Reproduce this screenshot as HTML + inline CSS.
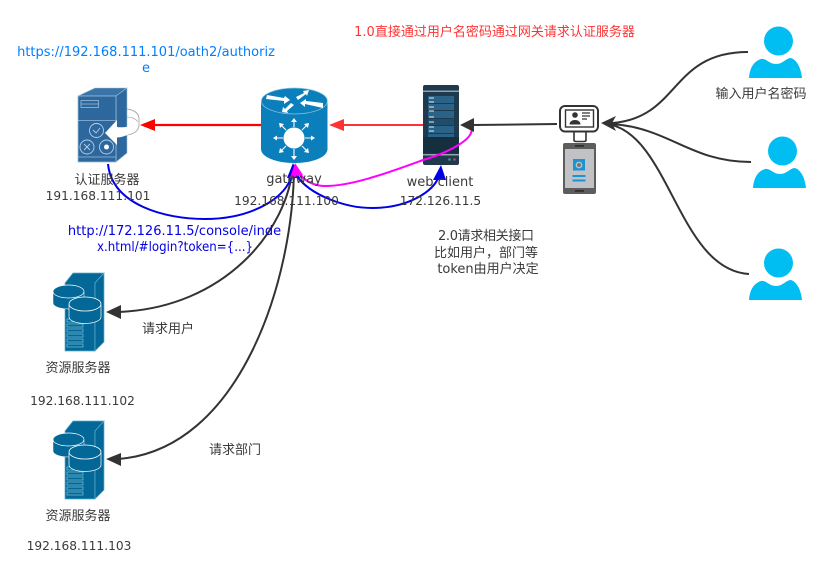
<!DOCTYPE html>
<html><head><meta charset="utf-8"><style>
html,body{margin:0;padding:0;background:#fff;width:819px;height:567px;overflow:hidden}
svg{display:block}
text{font-family:"DejaVu Sans","WenQuanYi Zen Hei","Noto Sans CJK SC",sans-serif;font-size:13px;fill:#3a3a3a;text-anchor:middle}
text.ip{font-size:12.2px}
</style></head><body>
<svg width="819" height="567" viewBox="0 0 819 567" xmlns="http://www.w3.org/2000/svg">
<defs>
<g id="res">
<path d="M65 10 L73 0 H104 L95 10 V78 H65Z" fill="#036897" stroke="#5fb0cf" stroke-width=".7"/>
<path d="M95 10 L104 0 V69 L95 78Z" fill="#036897" stroke="#5fb0cf" stroke-width=".7"/>
<g fill="none" stroke="#6fb8d3" stroke-width=".8">
<rect x="67" y="46" width="16" height="3"/><rect x="67" y="51" width="16" height="3"/><rect x="67" y="56" width="16" height="3"/><rect x="67" y="61" width="16" height="3"/><rect x="67" y="66" width="16" height="3"/><rect x="67" y="71" width="16" height="3"/>
</g>
<path d="M53 19 V30 A15.500 6 0 0 0 84 30 V19Z" fill="#036897" stroke="#fff" stroke-width=".5"/>
<ellipse cx="68.500" cy="18.500" rx="15.500" ry="6.500" fill="#036897" stroke="#fff" stroke-width=".7"/>
<path d="M69 32 V44 A16 6.500 0 0 0 101 44 V32Z" fill="#036897" stroke="#fff" stroke-width=".7"/>
<ellipse cx="85" cy="31" rx="16" ry="7" fill="#036897" stroke="#fff" stroke-width=".8"/>
</g>
<path id="user" d="M0 21 C1 9 6 4 12 2 C17 1 20 7 27 7 C34 7 37 1 42 1 C48 3 52 11 53 21Z" fill="#00bef2"/>
</defs>

<!-- auth server -->
<path d="M78 96 L95 88 H127 V153 L116 162 H78Z" fill="#2c679e"/>
<path d="M78 96 L95 88 H127 L116 96Z" fill="#3b74a8" stroke="#9dbbd6" stroke-width=".6"/>
<path d="M116 96 L127 88 V153 L116 162Z" fill="#2c679e" stroke="#9dbbd6" stroke-width=".6"/>
<rect x="78" y="96" width="38" height="66" fill="#2c679e" stroke="#9dbbd6" stroke-width=".8"/>
<rect x="81" y="100.500" width="17.500" height="7" fill="none" stroke="#9dbbd6" stroke-width=".8"/>
<path d="M81 104 H98 M78 120.500 H116 M78 157 H116" stroke="#9dbbd6" stroke-width=".8"/>
<g fill="none" stroke="#b9cfe3" stroke-width=".9">
<circle cx="96.500" cy="130.500" r="7"/><circle cx="87" cy="147" r="7"/><circle cx="106.500" cy="147" r="7"/>
<path d="M93 130 L96 133 L100 128 M84 144 L90 150 M90 144 L84 150"/>
</g>
<circle cx="106.500" cy="147" r="2.500" fill="#fff"/>
<path d="M127 109 C134 110 139 113 139 119 V125 C139 131 133 135 125 135" fill="none" stroke="#aaa" stroke-width=".9"/>
<path d="M127 117 C132 117 136 119 138 122" fill="none" stroke="#aaa" stroke-width=".7"/>
<path d="M105 133 L117 120 V127 C125 128 133 126 138 121.500 C137 131 127 137 117 137.500 V145Z" fill="#fff"/>

<!-- router -->
<path d="M261 101 V149 C261 157 276 163 294.500 163 C313 163 327.500 157 327.500 149 V101Z" fill="#0b7fbb"/>
<ellipse cx="294.400" cy="101" rx="33" ry="13" fill="#0b7fbb" stroke="#8fc6e0" stroke-width=".7"/>
<g fill="#fff">
<path d="M267 95 L284 98 L285 96 L290 100 L284 104 L284 101 L266 99Z"/>
<path d="M296 97 L304 93 L303 91 L309 90 L307 96 L306 94 L298 100Z"/>
<path d="M282 112 L283 107 L285 109 L291 103 L294 105 L287 111 L288 113Z"/>
<path d="M300 103 L306 99 L306 101 L323 103 L323 108 L305 104 L305 107Z"/>
<circle cx="294" cy="138" r="10.500"/>
</g>
<g stroke="#fff" stroke-width="1.100" fill="none">
<path d="M294 127 V120 M294 149 V156 M283 138 H275 M305 138 H313 M286 130 L281 125 M302 130 L307 125 M286 146 L281 151 M302 146 L307 151"/>
</g>
<g fill="#fff">
<path d="M294 118 L291 122 H297Z M294 160 L291 156 H297Z M273 138 L277 135.500 V140.500Z M315 138 L311 135.500 V140.500Z M279 123 L284 124 L280 128Z M309 123 L304 124 L308 128Z M279 153 L280 148 L284 152Z M309 153 L308 148 L304 152Z"/>
</g>

<!-- web client -->
<rect x="423" y="85" width="36" height="80" rx="2" fill="#1e3a4c"/>
<rect x="423" y="90.500" width="36" height="1.500" fill="#8fa3ae"/>
<rect x="423" y="154" width="36" height="1.500" fill="#8fa3ae"/>
<rect x="428" y="96" width="26" height="7" fill="#2a6387"/><rect x="428" y="104" width="26" height="6" fill="#2a6387"/>
<rect x="428" y="111" width="26" height="7" fill="#2a6387"/><rect x="428" y="119" width="26" height="6" fill="#1f4e6c"/>
<rect x="428" y="126" width="26" height="7" fill="#2a6387"/><rect x="428" y="134" width="26" height="3" fill="#2a6387"/>
<path d="M429 98 H434 M429 102 H434 M429 107 H434 M429 111 H434 M429 117 H434 M429 122 H434 M429 127 H434 M429 131 H434" stroke="#e6eef3" stroke-width="1"/>
<path d="M424 137 V153 M426 137 V153 M428 137 V153 M430 137 V153 M432 137 V153 M434 137 V153 M436 137 V153 M438 137 V153 M440 137 V153 M442 137 V153 M444 137 V153 M446 137 V153 M448 137 V153 M450 137 V153 M452 137 V153 M454 137 V153 M456 137 V153 M458 137 V153" stroke="#0f2431" stroke-width="1"/>
<circle cx="449.500" cy="159.500" r="1.300" fill="#3a9a80"/><circle cx="454.500" cy="159.500" r="1.300" fill="#b04a55"/>

<!-- monitor and phone -->
<path d="M574 131 V140 Q574 141.500 576 141.500 H584 Q586 141.500 586 140 V131" fill="#fff" stroke="#333" stroke-width="1.600"/>
<rect x="560" y="106" width="38" height="25.500" rx="5" fill="#fff" stroke="#333" stroke-width="2"/>
<rect x="565.500" y="110" width="28" height="17" fill="#fff" stroke="#333" stroke-width="1.400"/>
<circle cx="575" cy="115" r="2.800" fill="#333"/><path d="M569.500 124.500 C569.500 118.500 580.500 118.500 580.500 124.500Z" fill="#333"/>
<path d="M582 113 H590 M582 116 H590 M582 119 H587" stroke="#333" stroke-width="1.300"/>
<rect x="563" y="143" width="33" height="51" rx="2" fill="#5d5d5d"/>
<rect x="565" y="149" width="29" height="39" fill="#c0c2c6"/>
<rect x="575" y="145" width="9" height="1.800" fill="#2f2f2f"/><rect x="575" y="190" width="9" height="1.800" fill="#2f2f2f"/>
<rect x="573" y="159" width="12" height="11.500" fill="#1a94d2"/>
<circle cx="579" cy="165" r="3.400" fill="#c0c2c6"/><circle cx="579" cy="165" r="2" fill="#777"/>
<rect x="572.500" y="175" width="13" height="2" fill="#1a94d2"/><rect x="572.500" y="179.500" width="13" height="2" fill="#1a94d2"/>

<!-- resource servers -->
<use href="#res" x="0" y="273"/>
<use href="#res" x="0" y="421"/>

<!-- users -->
<circle cx="778.500" cy="41" r="14.500" fill="#00bef2"/><use href="#user" x="749" y="57"/>
<circle cx="782.500" cy="151" r="14.500" fill="#00bef2"/><use href="#user" x="753" y="167"/>
<circle cx="778.500" cy="263" r="14.500" fill="#00bef2"/><use href="#user" x="749" y="279"/>

<!-- connectors -->
<g fill="none" stroke-linecap="butt">
<path d="M748 52 C670 52 680 118 612 123" stroke="#333" stroke-width="2"/>
<path d="M751 162 C690 162 670 128 612 124" stroke="#333" stroke-width="2"/>
<path d="M749 274 C680 270 670 140 612 125" stroke="#333" stroke-width="2"/>
<path d="M557 124 L472 125" stroke="#333" stroke-width="2"/>
<path d="M261 125 H153" stroke="#ff0000" stroke-width="2.200"/>
<path d="M423 125 H343" stroke="#ff3333" stroke-width="2"/>
<path d="M293 165 C288 230 225 308 118 312" stroke="#333" stroke-width="2"/>
<path d="M294 165 C294 280 240 450 118 459" stroke="#333" stroke-width="2"/>
<path d="M108 164 C112 205 165 219 205 219 C255 219 288 195 291 176" stroke="#0000e6" stroke-width="2"/>
<path d="M297 176 C310 195 345 208 372 208 C410 208 434 190 438 178" stroke="#0000e6" stroke-width="2"/>
<path d="M471 127 C476 138 450 152 423 160 C390 172 350 187 323 186 C311 185 304 180 299 173" stroke="#ff00ff" stroke-width="2"/>
</g>
<g>
<path d="M601 123 L616 116 L612 123 L616 131Z" fill="#333"/>
<path d="M460 125 L474 118 V132Z" fill="#333"/>
<path d="M140 125 L155 119 V131Z" fill="#ff0000"/>
<path d="M329 125 L344 119 V131Z" fill="#ff3333"/>
<path d="M106 312 L121 305 V319Z" fill="#333"/>
<path d="M106 459 L121 453 V466Z" fill="#333"/>
<path d="M293 163 L287 178 L300 178Z" fill="#0000e6"/>
<path d="M295 163 L290 178 L303 175Z" fill="#ff00ff"/>
<path d="M441 165 L433 180 L446 180Z" fill="#0000e6"/>
</g>

<!-- labels -->
<text x="146" y="56" style="fill:#007fff">https://192.168.111.101/oath2/authoriz</text>
<text x="146" y="72" style="fill:#007fff">e</text>
<text x="494.500" y="36" style="fill:#ff3333">1.0直接通过用户名密码通过网关请求认证服务器</text>
<text x="107" y="184">认证服务器</text>
<text class="ip" x="98" y="200">191.168.111.101</text>
<text x="294" y="183">gateway</text>
<text class="ip" x="286.500" y="205">192.168.111.100</text>
<text x="440" y="186">web client</text>
<text class="ip" x="440.500" y="205">172.126.11.5</text>
<text x="174.500" y="235" style="fill:#0000e6">http://172.126.11.5/console/inde</text>
<text x="175" y="251" style="fill:#0000e6" textLength="156" lengthAdjust="spacingAndGlyphs">x.html/#login?token={...}</text>
<text x="486" y="240" textLength="96" lengthAdjust="spacing">2.0请求相关接口</text>
<text x="486" y="257">比如用户，部门等</text>
<text x="488" y="273">token由用户决定</text>
<text x="761" y="98">输入用户名密码</text>
<text x="168" y="333">请求用户</text>
<text x="235" y="454">请求部门</text>
<text x="78" y="372">资源服务器</text>
<text class="ip" x="82.500" y="405">192.168.111.102</text>
<text x="78" y="520">资源服务器</text>
<text class="ip" x="79" y="550">192.168.111.103</text>
</svg>
</body></html>
